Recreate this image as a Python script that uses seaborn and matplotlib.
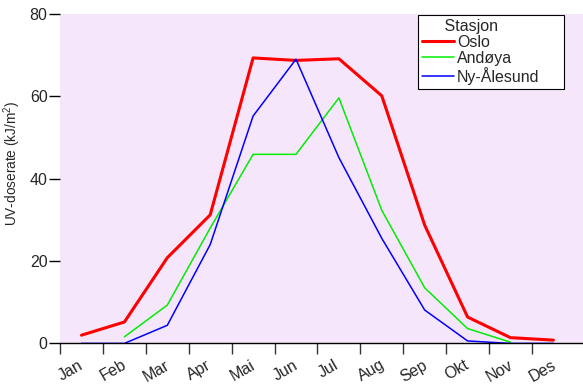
import numpy as np
import pandas as pd
import matplotlib
matplotlib.use("Agg")
import matplotlib.pyplot as plt
import seaborn as sns

months = ["Jan", "Feb", "Mar", "Apr", "Mai", "Jun", "Jul", "Aug", "Sep", "Okt", "Nov", "Des"]
oslo = [2.0, 5.2, 20.8, 31.2, 69.3, 68.7, 69.1, 60.1, 28.7, 6.4, 1.4, 0.8]
andoya = [np.nan, 1.6, 9.3, 28.0, 45.9, 45.9, 59.6, 32.3, 13.5, 3.6, 0.3, np.nan]
ny_alesund = [0.0, 0.0, 4.4, 24.0, 55.2, 69.0, 45.1, 25.5, 8.1, 0.6, 0.0, 0.0]

stations = ["Oslo", "Andøya", "Ny-Ålesund"]
colors = {"Oslo": "#ff0000", "Andøya": "#00ee00", "Ny-Ålesund": "#0000ff"}
widths = {"Oslo": 2.2, "Andøya": 1.1, "Ny-Ålesund": 1.1}

# month index + 0.5 places each monthly value in the middle of its month
pos = np.arange(12) + 0.5
df = pd.DataFrame({
    "pos": np.tile(pos, 3),
    "dose": oslo + andoya + ny_alesund,
    "Stasjon": np.repeat(stations, 12),
})

sns.set_style("white")
plt.rcParams["font.family"] = ["Liberation Sans", "DejaVu Sans"]
plt.rcParams["mathtext.fontset"] = "custom"
plt.rcParams["mathtext.rm"] = "Liberation Sans"

fig = plt.figure(figsize=(5.83, 3.85), dpi=100)
ax = fig.add_axes([0.103, 0.108, 0.897, 0.856])
ax.set_facecolor("#f6e6fb")

for st in stations:
    sub = df[df["Stasjon"] == st].dropna()
    sns.lineplot(data=sub, x="pos", y="dose", color=colors[st],
                 linewidth=widths[st], label=st, ax=ax)

ax.set_xlim(0, 12.19)
ax.set_ylim(0, 80)

for s in ["top", "right", "left"]:
    ax.spines[s].set_visible(False)
ax.spines["bottom"].set_color("black")
ax.spines["bottom"].set_linewidth(1.0)

ax.set_yticks([0, 20, 40, 60, 80])
ax.tick_params(axis="y", which="major", left=True, length=8, width=1,
               color="black", labelsize=11.5, pad=1, direction="out")

ax.set_xticks(np.arange(12))
ax.set_xticklabels([])
ax.tick_params(axis="x", which="major", bottom=True, length=8, width=1,
               color="#333333", direction="out")
ax.set_xticks(np.arange(12) + 0.25, minor=True)
ax.set_xticklabels(months, minor=True, rotation=30, ha="center")
ax.tick_params(axis="x", which="minor", length=0, labelsize=11.5, pad=10)

ax.set_xlabel("")
ax.set_ylabel("UV-doserate (kJ/m$^{2}$)", fontsize=9.8)
ax.yaxis.set_label_coords(-0.071, 0.545)

leg = ax.legend(title="     Stasjon", loc="upper left",
                bbox_to_anchor=(0.6845, 0.5, 0.279, 0.496), mode="expand",
                alignment="left", fontsize=11.5, title_fontsize=11.5,
                frameon=True, fancybox=False, framealpha=1, edgecolor="black",
                handlelength=2.0, handletextpad=0.2, borderpad=0.25,
                labelspacing=0.05, borderaxespad=0.0)
leg.get_frame().set_linewidth(0.8)

fig.savefig("out.png", dpi=100)
